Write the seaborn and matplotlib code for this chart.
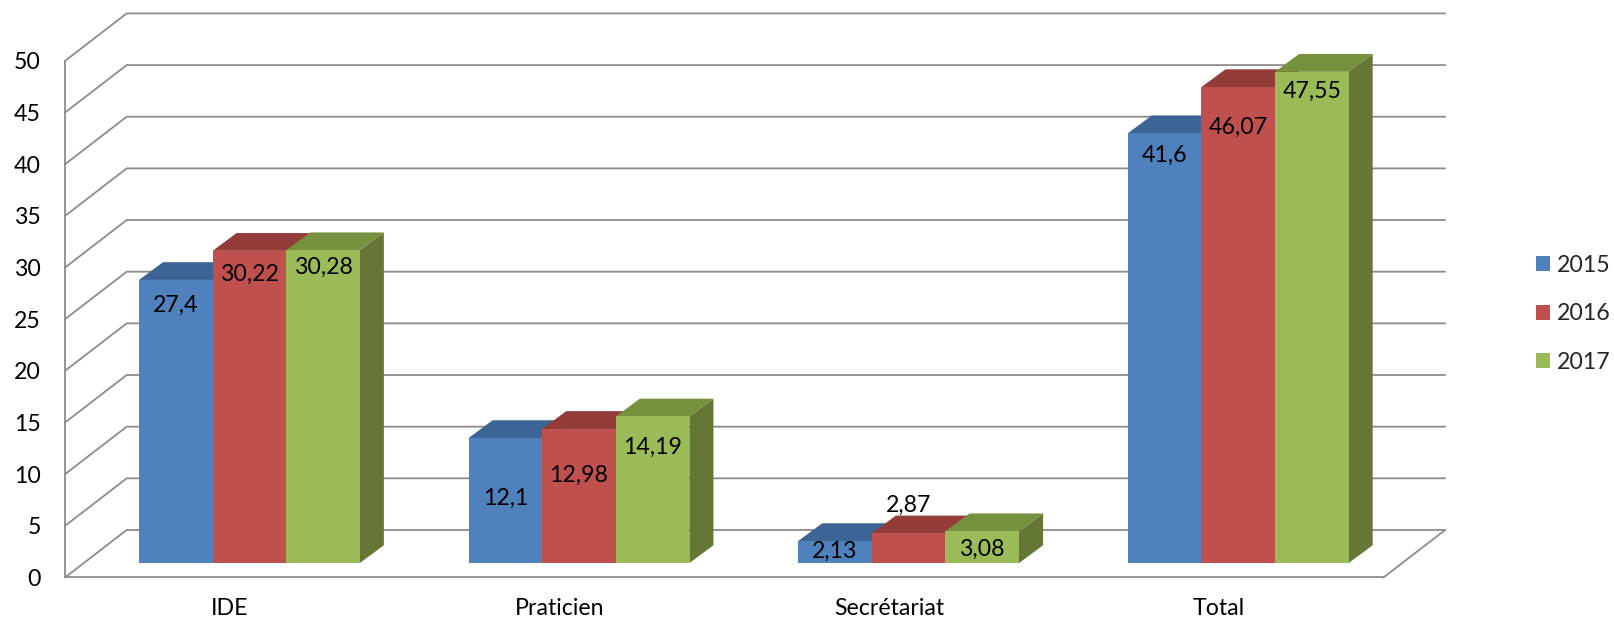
import numpy as np
import pandas as pd
import matplotlib
matplotlib.use("Agg")
import matplotlib.pyplot as plt
from matplotlib.patches import Polygon, Patch
import seaborn as sns

# ---------------- data ----------------
categories = ["IDE", "Praticien", "Secrétariat", "Total"]
years = ["2015", "2016", "2017"]
values_2015 = [27.4, 12.1, 2.13, 41.6]
values_2016 = [30.22, 12.98, 2.87, 46.07]
values_2017 = [30.28, 14.19, 3.08, 47.55]
label_texts_2015 = ["27,4", "12,1", "2,13", "41,6"]
label_texts_2016 = ["30,22", "12,98", "2,87", "46,07"]
label_texts_2017 = ["30,28", "14,19", "3,08", "47,55"]
y_ticks = [0, 5, 10, 15, 20, 25, 30, 35, 40, 45, 50]

# label placement (units below the bar top; negative = above) - style only
label_drop = {
    "2015": [2.5, 5.8, 1.0, 2.1],
    "2016": [2.3, 4.5, -2.7, 3.9],
    "2017": [1.7, 3.0, 1.8, 1.9],
}

df = pd.DataFrame({
    "cat": categories * 3,
    "year": [y for y in years for _ in categories],
    "value": values_2015 + values_2016 + values_2017,
})

# ---------------- style ----------------
sns.set_style("white")
plt.rcParams["font.family"] = ["Lato", "DejaVu Sans"]
FS = 16.7

front_cols = {"2015": "#4F81BD", "2016": "#C0504D", "2017": "#9BBB59"}
top_cols = {"2015": "#3C6595", "2016": "#933B39", "2017": "#76913E"}
side_cols = {"2015": "#3A5F8C", "2016": "#8A3735", "2017": "#657734"}
GRID = "#8C8C8C"

# oblique projection (full depth of the box)
DX, DY = 0.1872, 4.6
# bar front-face offset and bar depth
FDX, FDY = 0.0594, 1.40
BDX, BDY = 0.073, 1.72

fig = plt.figure(figsize=(16.14, 6.21), dpi=100)
ax = fig.add_axes([0.04027, 0.07005, 0.8551, 0.915])

sns.barplot(data=df, x="cat", y="value", hue="year", hue_order=years,
            order=categories, palette=front_cols, width=0.67, saturation=1,
            linewidth=0, legend=False, ax=ax, zorder=3)

ax.set_xlim(-0.5, 3.5 + DX)
ax.set_ylim(0, 55)

# move bar front faces into the box depth and add top / side faces
for cont, yr in zip(ax.containers, years):
    for bar in cont:
        x0 = bar.get_x()
        w = bar.get_width()
        h = bar.get_height()
        bar.set_x(x0 + FDX)
        bar.set_y(FDY)
        bar.set_zorder(3)
        xl, xr = x0 + FDX, x0 + FDX + w
        yb, yt = FDY, FDY + h
        ax.add_patch(Polygon([(xl, yt), (xr, yt), (xr + BDX, yt + BDY),
                              (xl + BDX, yt + BDY)], closed=True,
                             facecolor=top_cols[yr], edgecolor="none",
                             zorder=2))
        ax.add_patch(Polygon([(xr, yb), (xr, yt), (xr + BDX, yt + BDY),
                              (xr + BDX, yb + BDY)], closed=True,
                             facecolor=side_cols[yr], edgecolor="none",
                             zorder=1.5))

# data labels
for cont, yr, texts in zip(ax.containers, years,
                           [label_texts_2015, label_texts_2016, label_texts_2017]):
    for bar, drop, t in zip(cont, label_drop[yr], texts):
        cx = bar.get_x() + bar.get_width() / 2
        cy = bar.get_y() + bar.get_height() - drop
        ax.text(cx, cy, t, ha="center", va="center", fontsize=FS,
                color="black", zorder=5)

# back wall gridlines + side-wall diagonals
for v in y_ticks:
    ax.plot([-0.5, -0.5 + DX, 3.5 + DX], [v, v + DY, v + DY],
            color=GRID, lw=1.3, zorder=0.5, clip_on=False,
            solid_joinstyle="miter")
ax.plot([3.5, 3.5 + DX], [0, DY], color=GRID, lw=1.3, zorder=0.5,
        clip_on=False)

# axes
for s in ["top", "right"]:
    ax.spines[s].set_visible(False)
ax.spines["left"].set_bounds(0, 50)
ax.spines["bottom"].set_bounds(-0.5, 3.5)
for s in ["left", "bottom"]:
    ax.spines[s].set_color(GRID)
    ax.spines[s].set_linewidth(1.3)

ax.set_yticks(y_ticks)
ax.set_yticklabels([str(v) for v in y_ticks])
ax.tick_params(axis="y", direction="out", length=5.8, width=1.3,
               color=GRID, labelsize=FS, pad=11.5, labelcolor="black")
ax.set_xticks(range(len(categories)))
ax.set_xticklabels(categories)
ax.set_xticks(np.arange(-0.5, 4.0, 1.0), minor=True)
ax.tick_params(axis="x", which="major", length=0, labelsize=FS, pad=15,
               labelcolor="black")
ax.tick_params(axis="x", which="minor", direction="out", length=5.5,
               width=1.3, color=GRID)
ax.set_xlabel("")
ax.set_ylabel("")
ax.grid(False)
ax.patch.set_alpha(0)

# legend
handles = [Patch(facecolor=front_cols[y], edgecolor="none", label=y)
           for y in years]
fig.legend(handles=handles, loc="center left",
           bbox_to_anchor=(1536 / 1614, 1 - 314 / 621), frameon=False,
           fontsize=FS, handlelength=0.62, handleheight=0.62,
           handletextpad=0.3, labelspacing=1.18, borderpad=0,
           borderaxespad=0)

fig.savefig("out.png", dpi=100)
